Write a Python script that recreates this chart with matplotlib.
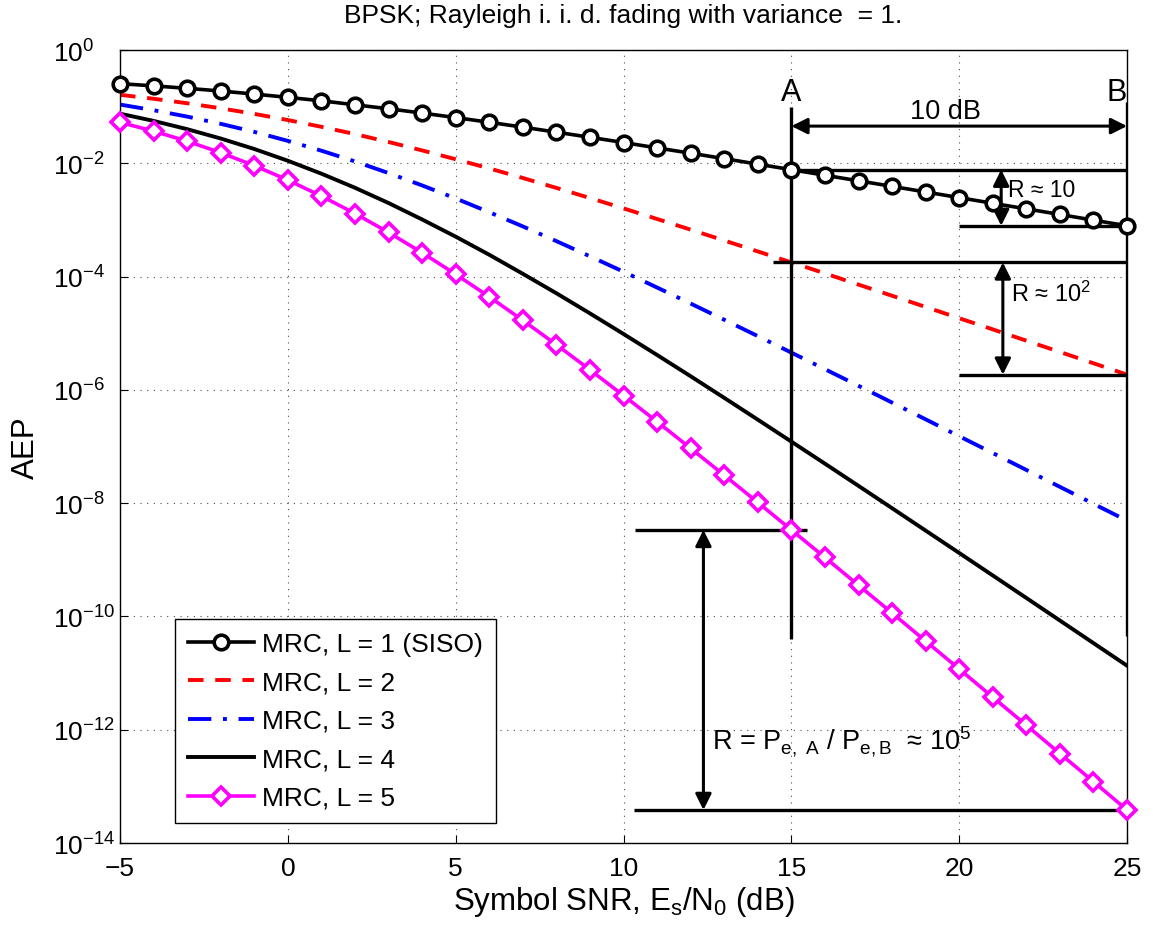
import matplotlib
matplotlib.use("Agg")
import matplotlib.pyplot as plt

plt.rcParams["font.family"] = ["Liberation Sans", "DejaVu Sans"]
plt.rcParams["mathtext.fontset"] = "custom"
plt.rcParams["mathtext.rm"] = "Liberation Sans"
plt.rcParams["mathtext.it"] = "Liberation Sans"
plt.rcParams["mathtext.bf"] = "Liberation Sans:bold"

# --------------------------------------------------
# AEP of BPSK with L-branch MRC, Rayleigh fading
# --------------------------------------------------
snr_db = list(range(-5, 26))

aep_L1 = [0.255, 0.233, 0.211, 0.189, 0.167, 0.146, 0.127, 0.108, 0.0919, 0.0771,
          0.0642, 0.0530, 0.0435, 0.0355, 0.0288, 0.0233, 0.0187, 0.0151, 0.0121,
          0.00967, 0.00772, 0.00616, 0.00491, 0.00392, 0.00312, 0.00248, 0.00197,
          0.00157, 0.00125, 0.000992, 0.000789]

aep_L2 = [0.162, 0.138, 0.115, 0.0937, 0.0746, 0.0581, 0.0441, 0.0328, 0.0238,
          0.0169, 0.0118, 0.00813, 0.00551, 0.00368, 0.00244, 0.00160, 0.00104,
          0.000674, 0.000434, 0.000278, 0.000178, 0.000114, 7.22e-5, 4.59e-5,
          2.91e-5, 1.84e-5, 1.17e-5, 7.39e-6, 4.67e-6, 2.95e-6, 1.86e-6]

aep_L3 = [0.109, 0.0866, 0.0668, 0.0498, 0.0359, 0.0249, 0.0167, 0.0108, 0.00673,
          0.00407, 0.00240, 0.00137, 7.69e-4, 4.23e-4, 2.28e-4, 1.22e-4, 6.41e-5,
          3.34e-5, 1.73e-5, 8.90e-6, 4.55e-6, 2.32e-6, 1.18e-6, 5.97e-7, 3.02e-7,
          1.52e-7, 7.67e-8, 3.86e-8, 1.94e-8, 9.75e-9, 4.90e-9]

aep_L4 = [0.0752, 0.0561, 0.0401, 0.0274, 0.0179, 0.0111, 0.00656, 0.00370, 0.00199,
          0.00102, 5.07e-4, 2.43e-4, 1.12e-4, 5.08e-5, 2.24e-5, 9.70e-6, 4.13e-6,
          1.74e-6, 7.23e-7, 2.98e-7, 1.22e-7, 4.98e-8, 2.02e-8, 8.15e-9, 3.28e-9,
          1.32e-9, 5.29e-10, 2.12e-10, 8.47e-11, 3.38e-11, 1.35e-11]

aep_L5 = [0.0529, 0.0370, 0.0246, 0.0154, 0.00911, 0.00506, 0.00264, 0.00130,
          6.02e-4, 2.64e-4, 1.10e-4, 4.40e-5, 1.69e-5, 6.27e-6, 2.26e-6, 7.95e-7,
          2.74e-7, 9.29e-8, 3.11e-8, 1.03e-8, 3.37e-9, 1.10e-9, 3.55e-10, 1.15e-10,
          3.67e-11, 1.18e-11, 3.75e-12, 1.20e-12, 3.80e-13, 1.21e-13, 3.83e-14]

labels = ["MRC, L = 1 (SISO)", "MRC, L = 2", "MRC, L = 3", "MRC, L = 4", "MRC, L = 5"]

snr_A, snr_B = 15, 25
iA, iB = snr_db.index(snr_A), snr_db.index(snr_B)

# --------------------------------------------------
# Figure
# --------------------------------------------------
fig = plt.figure(figsize=(11.53, 9.28), dpi=100)
ax = fig.add_axes([0.1041, 0.0905, 0.8734, 0.8545])

ax.semilogy(snr_db, aep_L1, "k-o", lw=2.6, ms=10.5, mew=2.6, mfc="white",
            label=labels[0], clip_on=False, zorder=4)
ax.semilogy(snr_db, aep_L2, "r--", lw=2.8, dashes=(4, 3), label=labels[1])
ax.semilogy(snr_db, aep_L3, "b-.", lw=2.8, dashes=(6, 3, 1, 3), label=labels[2])
ax.semilogy(snr_db, aep_L4, "k-", lw=2.8, label=labels[3])
ax.semilogy(snr_db, aep_L5, "-D", color="magenta", lw=2.6, ms=9.5, mew=2.6,
            mfc="white", label=labels[4], clip_on=False, zorder=4)

ax.set_xlim(-5, 25)
ax.set_ylim(1e-14, 1)
ax.set_xticks([-5, 0, 5, 10, 15, 20, 25])
ax.set_yticks([10.0 ** k for k in range(-14, 1, 2)])
ax.minorticks_off()
ax.tick_params(direction="in", length=6, width=0.8, labelsize=19)
ax.tick_params(axis="x", pad=9)
# decade labels start at a common left edge, exponents hang to the right
ax.tick_params(axis="y", pad=48)
for lab in ax.get_yticklabels():
    lab.set_horizontalalignment("left")
ax.grid(True, which="major", ls=(0, (1, 5)), color="0.3", lw=0.8)
for s in ax.spines.values():
    s.set_linewidth(1.0)

ax.set_title("BPSK; Rayleigh i. i. d. fading with variance  = 1.", fontsize=19, pad=20)
ax.set_xlabel("Symbol SNR, E$_\\mathrm{s}$/N$_\\mathrm{0}$ (dB)", fontsize=22.5, labelpad=3)
ax.set_ylabel("AEP", fontsize=22.5, labelpad=9)

# --------------------------------------------------
# Annotations: points A and B, 10 dB gap
# --------------------------------------------------
kw = dict(color="k", lw=2.4, solid_capstyle="butt")
ax.plot([snr_A, snr_A], [4e-11, 0.1], **kw)
ax.plot([snr_B, snr_B], [4.5e-11, 0.12], **kw)
ax.text(snr_A, 0.185, "A", fontsize=22, ha="center", va="center")
ax.text(24.7, 0.185, "B", fontsize=22, ha="center", va="center")

arr = dict(arrowstyle="<|-|>", color="k", lw=2.2, mutation_scale=24,
           shrinkA=0, shrinkB=0)
ax.annotate("", xy=(snr_B, 0.0454), xytext=(snr_A, 0.0454), arrowprops=arr)
ax.text(19.6, 0.083, "10 dB", fontsize=19.5, ha="center", va="center")

# L = 1 ratio
ax.plot([snr_A, snr_B], [aep_L1[iA]] * 2, **kw)
ax.plot([20, snr_B], [aep_L1[iB]] * 2, **kw)
ax.annotate("", xy=(21.25, aep_L1[iB]), xytext=(21.25, aep_L1[iA]), arrowprops=arr)
ax.text(21.45, 3.5e-3, "R ≈ 10", fontsize=16.5, ha="left", va="center")

# L = 2 ratio
ax.plot([14.45, snr_B], [aep_L2[iA]] * 2, **kw)
ax.plot([20, snr_B], [aep_L2[iB]] * 2, **kw)
ax.annotate("", xy=(21.3, aep_L2[iB]), xytext=(21.3, aep_L2[iA]), arrowprops=arr)
ax.text(21.55, 5.0e-5, "R ≈ 10$^2$", fontsize=17, ha="left", va="center")

# L = 5 ratio
ax.plot([10.35, 15.48], [aep_L5[iA]] * 2, **kw)
ax.plot([10.3, snr_B], [aep_L5[iB]] * 2, **kw)
ax.annotate("", xy=(12.38, aep_L5[iB]), xytext=(12.38, aep_L5[iA]), arrowprops=arr)
ax.text(12.65, 6.3e-13, "R = P$_\\mathrm{e,\\ A}$ / P$_\\mathrm{e,B}$  ≈ 10$^5$",
        fontsize=19.5, ha="left", va="center")

leg = ax.legend(loc="lower left", bbox_to_anchor=(0.0547, 0.025), fontsize=19,
                frameon=True, fancybox=False, edgecolor="k", framealpha=1,
                handlelength=2.5, borderpad=0.5, labelspacing=0.55, handletextpad=0.3,
                borderaxespad=0)
leg.get_frame().set_linewidth(1.0)

fig.savefig("out.png", dpi=100)
